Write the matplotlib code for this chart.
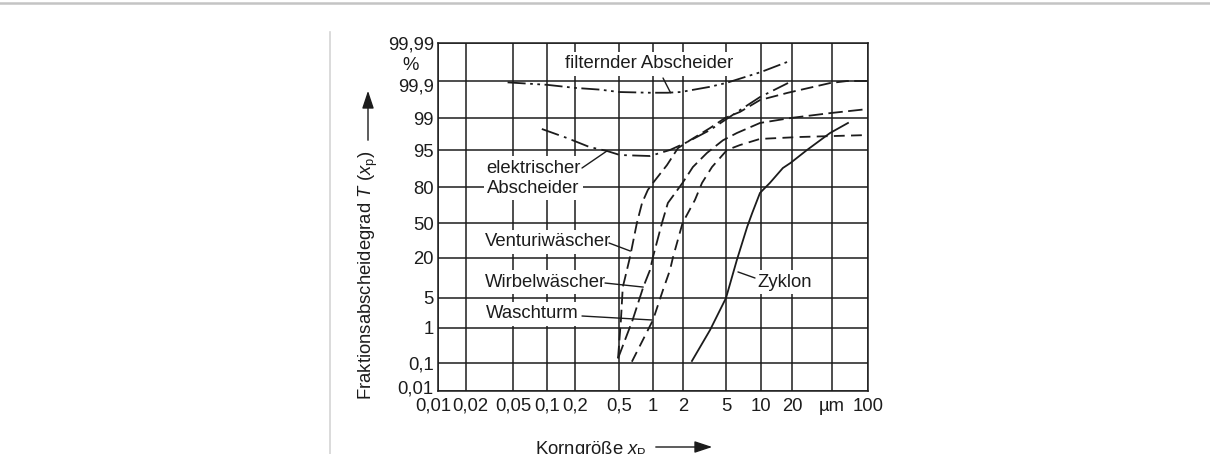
import math
import numpy as np
import matplotlib
matplotlib.use("Agg")
import matplotlib.pyplot as plt
from matplotlib.lines import Line2D
from matplotlib.transforms import ScaledTranslation

plt.rcParams["font.family"] = ["Liberation Sans", "DejaVu Sans"]
plt.rcParams["mathtext.fontset"] = "custom"
plt.rcParams["mathtext.rm"] = "Liberation Sans"
plt.rcParams["mathtext.it"] = "Liberation Sans:italic"

INK = "#1c1c1c"
FS = 13.3

# axis ticks
x_ticks = [0.01, 0.02, 0.05, 0.1, 0.2, 0.5, 1, 2, 5, 10, 20, 50, 100]
x_labels = ["0,01", "0,02", "0,05", "0,1", "0,2", "0,5", "1", "2", "5", "10", "20", "µm", "100"]
y_ticks = [0.01, 0.1, 1, 5, 20, 50, 80, 95, 99, 99.9, 99.99]
y_labels = ["0,01", "0,1", "1", "5", "20", "50", "80", "95", "99", "99,9", "99,99"]

# curves: particle size (µm) and fractional efficiency (%)
filter_x = [0.045, 0.1, 0.2, 0.34, 0.5, 0.94, 1.4, 1.9, 3.5, 5, 10, 18]
filter_y = [99.89, 99.87, 99.84, 99.82, 99.79, 99.78, 99.78, 99.79, 99.85, 99.885, 99.94, 99.967]

elektro_x = [0.09, 0.164, 0.27, 0.39, 0.51, 0.94, 1.48, 2.18, 3.56, 4.9, 7.0, 9.8, 18.3]
elektro_y = [98.18, 97.13, 95.63, 94.77, 93.77, 93.5, 95.0, 96.5, 98.08, 98.88, 99.43, 99.71, 99.885]

venturi_x = [0.49, 0.52, 0.54, 0.56, 0.626, 0.72, 0.80, 0.90, 1.0, 1.38, 1.78, 2.32, 3.56,
             4.9, 6.6, 9.8, 18.3, 48, 67, 100]
venturi_y = [0.14, 1.6, 7.7, 10, 20.7, 50, 68, 78, 82.4, 90.6, 95.4, 96.8, 98.27,
             99.0, 99.29, 99.65, 99.78, 99.885, 99.9, 99.9]

wirbel_x = [0.49, 0.66, 0.82, 0.94, 1.0, 1.23, 1.41, 1.98, 2.47, 3.33, 4.69, 6.2, 9.8, 19.4, 48, 100]
wirbel_y = [0.14, 1.6, 7.7, 13.9, 20.7, 50, 68, 82.4, 89.9, 94.3, 96.8, 97.76, 98.68, 99.0, 99.24, 99.40]

waschturm_x = [0.65, 1.0, 1.26, 1.48, 1.59, 1.98, 2.58, 3.0, 3.71, 5.1, 6.6, 9.8, 24, 100]
waschturm_y = [0.11, 1.6, 6.9, 13.9, 20.7, 50, 70.5, 82.4, 89.9, 95.0, 96.0, 97.0, 97.27, 97.52]

zyklon_x = [2.42, 3.56, 5.0, 6.2, 7.6, 8.4, 9.8, 12.2, 16.3, 19.4, 28.2, 47.8, 68]
zyklon_y = [0.116, 0.89, 5.0, 18.9, 46.2, 59.2, 75.9, 82.4, 89.5, 91.4, 95.0, 97.76, 98.68]

# grid spacing of the scanned sheet (printed paper is a bit uneven)
paper_w = [0, 28, 75, 109, 137, 181, 215, 245, 288, 323, 354, 394, 430]
paper_h = [0, 28, 63, 93, 133, 168, 204, 241, 273, 310, 348]

_z = np.linspace(-5, 5, 5001)
_p = 50 * (1 + np.array([math.erf(v / math.sqrt(2)) for v in _z]))
tick_z = np.interp(y_ticks, _p, _z)
tick_lx = np.log10(x_ticks)


def prob_fwd(y):
    z = np.interp(np.asarray(y, dtype=float), _p, _z)
    return np.interp(z, tick_z, paper_h)


def prob_inv(h):
    z = np.interp(np.asarray(h, dtype=float), paper_h, tick_z)
    return np.interp(z, _z, _p)


def log_fwd(x):
    x = np.clip(np.asarray(x, dtype=float), 1e-6, None)
    return np.interp(np.log10(x), tick_lx, paper_w)


def log_inv(w):
    return 10 ** np.interp(np.asarray(w, dtype=float), paper_w, tick_lx)


fig = plt.figure(figsize=(12.1, 4.54), dpi=100)
ax = fig.add_axes([438 / 1210, 63 / 454, 430 / 1210, 348 / 454])

ax.set_xscale("function", functions=(log_fwd, log_inv))
ax.set_yscale("function", functions=(prob_fwd, prob_inv))
ax.set_xlim(0.01, 100)
ax.set_ylim(0.01, 99.99)

ax.set_xticks(x_ticks)
ax.set_xticklabels(x_labels)
ax.xaxis.set_minor_locator(matplotlib.ticker.NullLocator())
ax.set_yticks(y_ticks)
ax.set_yticklabels(y_labels)
ax.yaxis.set_minor_locator(matplotlib.ticker.NullLocator())
ax.tick_params(length=0, labelsize=FS, colors=INK)
ax.tick_params(axis="x", pad=5)
ax.tick_params(axis="y", pad=3)

# small nudges of crowded corner labels, as on the sheet
def nudge(lbl, dx, dy):
    lbl.set_transform(lbl.get_transform() + ScaledTranslation(dx / 100, dy / 100, fig.dpi_scale_trans))

nudge(ax.get_xticklabels()[0], -5, 0)
nudge(ax.get_xticklabels()[1], 4, 0)
nudge(ax.get_yticklabels()[0], 0, 4)
nudge(ax.get_yticklabels()[9], 0, -4)

ax.set_axisbelow(True)
ax.grid(True, color=INK, lw=1.1)
for s in ax.spines.values():
    s.set_color(INK)
    s.set_linewidth(1.1)

# curves
lw = 1.3
ax.plot(filter_x, filter_y, color=INK, lw=lw, ls=(0, (10, 2.5, 1.5, 2.5, 1.5, 2.5)), zorder=3)
ax.plot(elektro_x, elektro_y, color=INK, lw=lw, ls=(0, (10, 3, 1.5, 3)), zorder=3)
ax.plot(venturi_x, venturi_y, color=INK, lw=lw, ls=(0, (7, 3)), zorder=3)
ax.plot(wirbel_x, wirbel_y, color=INK, lw=lw, ls=(0, (8, 3)), zorder=3)
ax.plot(waschturm_x, waschturm_y, color=INK, lw=lw, ls=(0, (6, 3.5)), zorder=3)
ax.plot(zyklon_x, zyklon_y, color=INK, lw=lw, zorder=3)

# curve labels with white background over the grid
box = dict(facecolor="white", edgecolor="none", pad=2.5)
labels = [
    ("filternder Abscheider", 0.2953, 0.9397),
    ("elektrischer", 0.1116, 0.6408),
    ("Abscheider", 0.1140, 0.5833),
    ("Venturiwäscher", 0.1093, 0.4282),
    ("Wirbelwäscher", 0.1093, 0.3132),
    ("Waschturm", 0.1116, 0.2213),
    ("Zyklon", 0.7419, 0.3132),
]
for txt, fx, fy in labels:
    ax.text(fx, fy, txt, transform=ax.transAxes, fontsize=FS, color=INK,
            ha="left", va="center", bbox=box, zorder=4)

# pointer lines from label to curve
pointers = [
    ((1.5, 99.78), (0.5233, 0.8994)),
    ((0.39, 94.8), (0.3349, 0.6408)),
    ((0.63, 25), (0.3977, 0.4253)),
    ((0.82, 7.7), (0.3884, 0.3103)),
    ((0.98, 1.6), (0.3349, 0.2155)),
    ((6.34, 13.1), (0.7372, 0.3247)),
]
for xy, xt in pointers:
    ax.annotate("", xy=xy, xycoords="data", xytext=xt, textcoords="axes fraction",
                arrowprops=dict(arrowstyle="-", color=INK, lw=1.0,
                                shrinkA=0, shrinkB=0), zorder=5)

# percent sign under top tick label
fig.text(411 / 1210, 1 - 65 / 454, "%", fontsize=FS, color=INK, ha="center", va="center")

# axis titles with arrows
fig.text(368 / 1210, 1 - 400 / 454, "Fraktionsabscheidegrad $T$ ($x_\\mathrm{p}$)",
         rotation=90, ha="center", va="bottom", fontsize=FS, color=INK)
fig.add_artist(matplotlib.patches.FancyArrowPatch(
    (368 / 1210, 1 - 143 / 454), (368 / 1210, 1 - 88 / 454), transform=fig.transFigure,
    arrowstyle="-|>,head_length=0.9,head_width=0.3", mutation_scale=12, color=INK, lw=1.0))

fig.text(535 / 1210, 1 - 439 / 454, "Korngröße $x_\\mathrm{P}$",
         ha="left", va="top", fontsize=FS, color=INK)
fig.add_artist(matplotlib.patches.FancyArrowPatch(
    (653 / 1210, 1 - 447 / 454), (715 / 1210, 1 - 447 / 454), transform=fig.transFigure,
    arrowstyle="-|>,head_length=0.9,head_width=0.3", mutation_scale=12, color=INK, lw=1.0))

# page edges of the scan
fig.add_artist(Line2D([0, 1], [1 - 3 / 454] * 2, color="#c4c4c4", lw=1.8,
                      transform=fig.transFigure))
fig.add_artist(Line2D([330 / 1210] * 2, [0, 1 - 32 / 454], color="#d4d4d4", lw=1.2,
                      transform=fig.transFigure))

fig.savefig("out.png", dpi=100, facecolor="white")
